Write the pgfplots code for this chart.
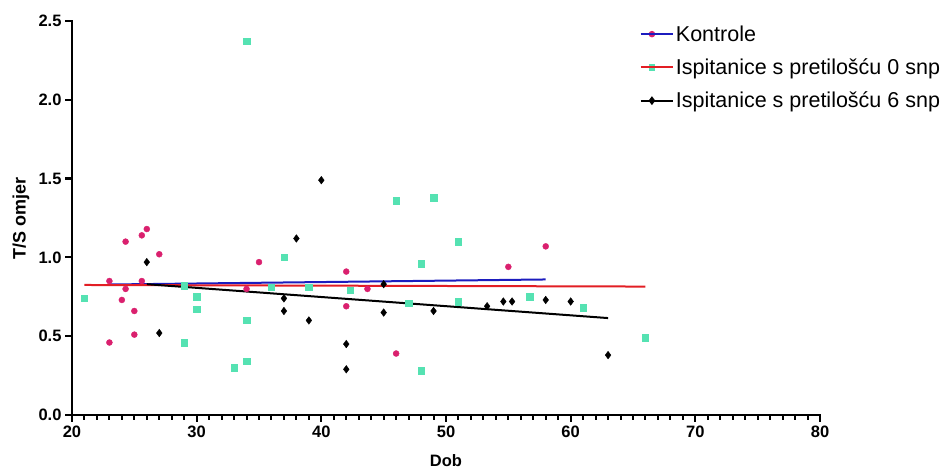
\documentclass[border=0pt]{standalone}
\usepackage{fontspec}
\setmainfont{Liberation Sans}
\usepackage{pgfplots}
\pgfplotsset{compat=1.18}
\definecolor{cpink}{RGB}{218,32,110}
\definecolor{cgreen}{RGB}{85,226,178}
\definecolor{cblue}{RGB}{28,28,190}
\definecolor{cred}{RGB}{226,30,36}
\pgfplotsset{/pgf/number format/assume math mode=true}
\begin{document}
\begin{tikzpicture}
\useasboundingbox (0pt,0pt) rectangle (944pt,471pt);
% axis frame and ticks (drawn first, as filled bars)
\begin{scope}
\fill[black] (70.7pt,54.7pt) rectangle (73.3pt,450.5pt);
\fill[black] (70.7pt,54.7pt) rectangle (821.2pt,57.3pt);
\foreach \k in {0,...,5} {\fill[black] (65pt,{56pt+\k*78.8pt-1.1pt}) rectangle ++(7pt,2.2pt);}
\foreach \k in {0,...,6} {\fill[black] ({72pt+\k*124.6667pt-1.1pt},49pt) rectangle ++(2.2pt,7pt);}
\foreach \k in {1,...,59} {\fill[black] ({72pt+\k*12.46667pt-1pt},51pt) rectangle ++(2pt,5pt);}
\end{scope}
\begin{axis}[name=ax, at={(72pt,56pt)}, anchor=south west,
  scale only axis, width=748pt, height=394pt,
  xmin=20, xmax=80, ymin=0, ymax=2.5,
  axis lines=left,
  axis line style={draw=none},
  xtick={20,30,...,80},
  ytick={0,0.5,...,2.5},
  tick style={draw=none},
  major tick length=7pt,
  xtick align=outside, ytick align=outside,
  ticklabel style={font=\bfseries\fontsize{16.5}{19}\selectfont},
  yticklabel style={/pgf/number format/.cd,fixed,fixed zerofill,precision=1},
  xlabel={Dob}, ylabel={T/S omjer},
  xlabel style={font=\bfseries\fontsize{16.5}{19}\selectfont, at={(axis description cs:0.5,-0.117)},anchor=center},
  ylabel style={font=\bfseries\fontsize{18}{21}\selectfont, at={(axis description cs:-0.0682,0.5)},anchor=center},
  legend style={at={(axis description cs:0.755,0.999)}, anchor=north west, draw=none, fill=none,
    font=\fontsize{21.5}{24}\selectfont, row sep=12pt},
  legend cell align=left,
  legend image code/.code={\draw[mark repeat=2,mark phase=2,#1] plot coordinates {(0pt,0pt) (11pt,0pt) (22pt,0pt)}; \path (0pt,0pt) -- (32pt,0pt);},
  clip=false,
]
\addlegendimage{cblue, line width=2pt, mark=*, mark size=2.2pt, mark options={draw=cpink, fill=cpink}}
\addlegendentry{Kontrole}
\addlegendimage{cred, line width=2pt, mark=square*, mark size=2.4pt, mark options={draw=cgreen, fill=cgreen}}
\addlegendentry{Ispitanice s pretilošću 0 snp}
\addlegendimage{black, line width=2pt, mark=diamond*, mark size=2.8pt, mark options={draw=black, fill=black}}
\addlegendentry{Ispitanice s pretilošću 6 snp}

\addplot[only marks, mark=*, mark size=3pt, draw=cpink, fill=cpink, forget plot] coordinates {
(23,0.85)(23,0.46)(24.3,1.10)(24.3,0.80)(24,0.73)(25,0.66)(25,0.51)(25.6,1.14)(26,1.18)(25.6,0.85)
(27,1.02)(35,0.97)(34,0.80)(42,0.91)(42,0.69)(43.7,0.80)(46,0.39)(55,0.94)(58,1.07)};
\addplot[only marks, mark=square*, mark size=3.2pt, draw=cgreen, fill=cgreen, forget plot] coordinates {
(21,0.74)(29,0.82)(29,0.46)(30,0.75)(30,0.67)(33,0.30)(34,0.34)(34,0.60)(34,2.37)(36,0.81)
(37,1.00)(39,0.81)(42.3,0.79)(46,1.36)(47,0.71)(48,0.96)(48,0.28)(49,1.38)(51,1.10)(51,0.72)
(56.7,0.75)(61,0.68)(66,0.49)};
\addplot[only marks, mark=diamond*, mark size=3.8pt, draw=black, fill=black, forget plot] coordinates {
(26,0.97)(27,0.52)(37,0.74)(37,0.66)(38,1.12)(39,0.60)(40,1.49)(42,0.45)(42,0.29)(45,0.83)
(45,0.65)(49,0.66)(53.3,0.69)(54.6,0.72)(55.3,0.72)(58,0.73)(60,0.72)(63,0.38)};
\addplot[cblue, line width=2pt, forget plot] coordinates {(23,0.828)(58,0.86)};
\addplot[cred, line width=2pt, forget plot] coordinates {(21,0.825)(66,0.815)};
\addplot[black, line width=2pt, forget plot] coordinates {(26,0.83)(63,0.615)};
\end{axis}
\end{tikzpicture}
\end{document}
